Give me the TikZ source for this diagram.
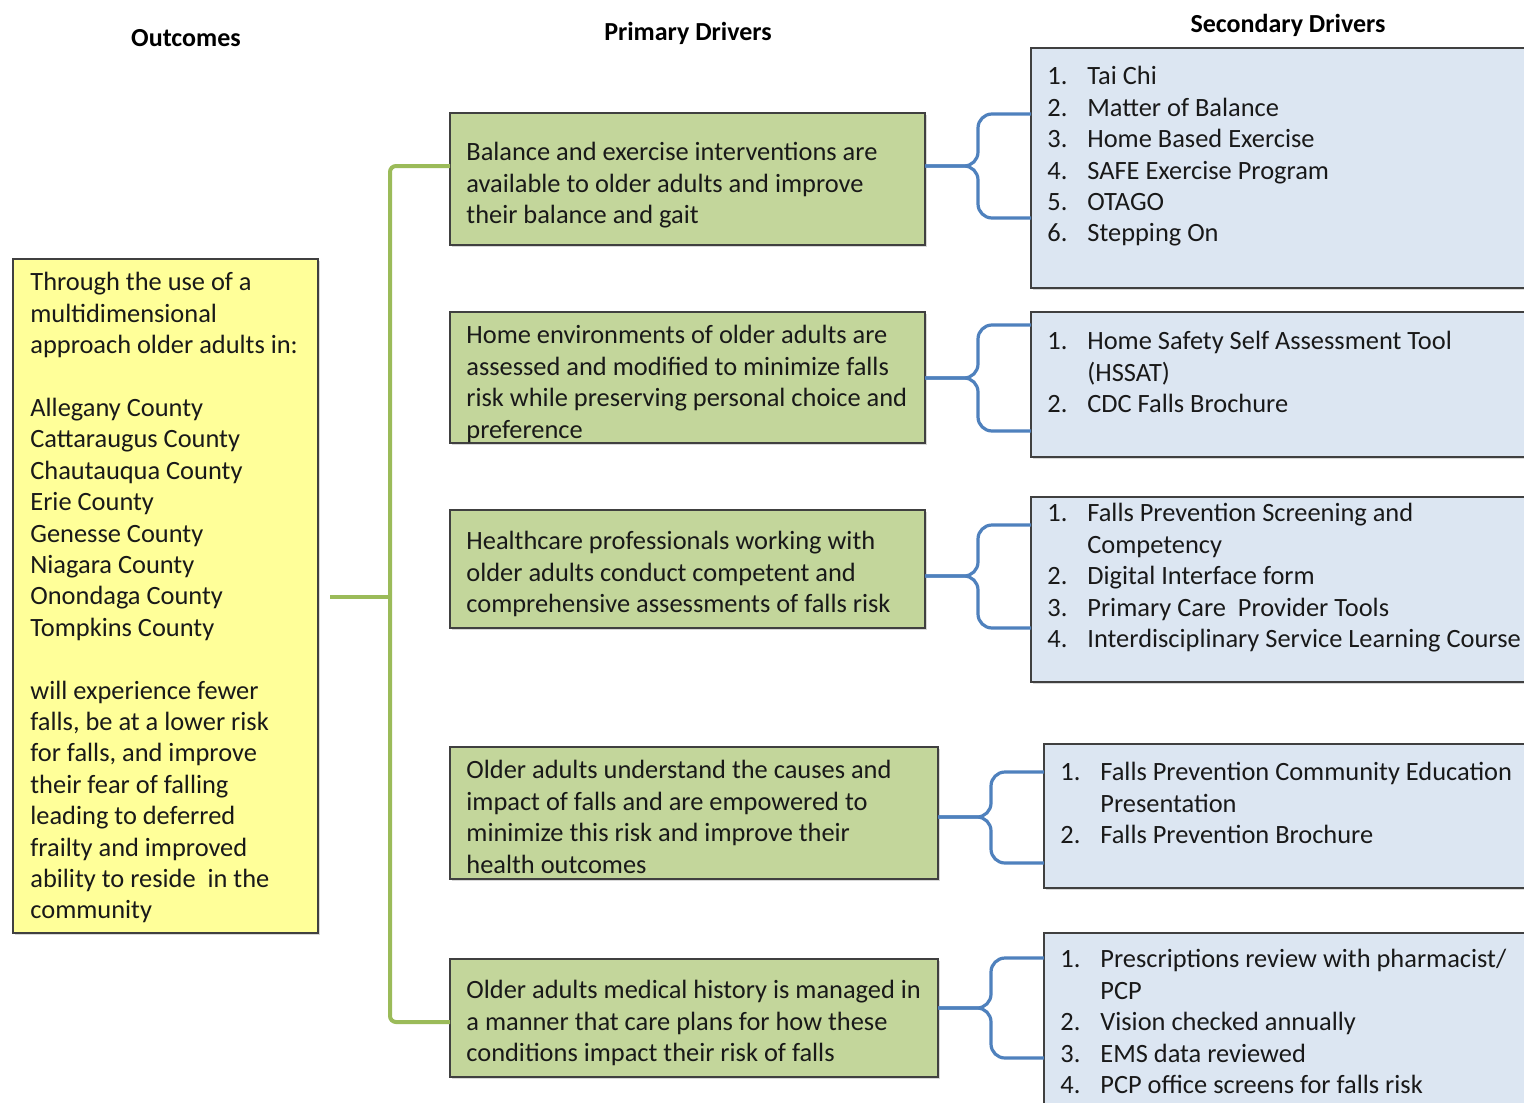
\documentclass[tikz,border=0pt]{standalone}
\usepackage{fontspec}
\setmainfont{Carlito}
\usetikzlibrary{shadows}
\definecolor{gfill}{HTML}{C3D69B}
\definecolor{gline}{HTML}{9BBB59}
\definecolor{bfill}{HTML}{DCE6F2}
\definecolor{bline}{HTML}{4F81BD}
\definecolor{yfill}{HTML}{FFFF99}
\definecolor{edge}{HTML}{404040}
\newcommand{\itm}[2]{\makebox[20pt][l]{#1}#2}
\newcommand{\cnt}[1]{\hspace*{20pt}#1}
\tikzset{
  box/.style={draw=edge, line width=1pt, inner sep=0pt, outer sep=0pt,
     drop shadow={shadow xshift=0.8pt, shadow yshift=-0.8pt, opacity=0.3}},
  ybox/.style={box, fill=yfill},
  gbox/.style={box, fill=gfill},
  bbox/.style={box, fill=bfill},
  txt/.style={font=\fontsize{13.2}{15.7}\selectfont, align=left, inner sep=0pt, anchor=north west, text=black!90},
  head/.style={font=\fontsize{13}{15.7}\selectfont\bfseries, inner sep=0pt, anchor=base},
  gcon/.style={draw=gline, line width=2pt, rounded corners=3pt},
  bcon/.style={draw=bline, line width=1.6pt, rounded corners=7pt},
}
\begin{document}
\begin{tikzpicture}[x=0.5pt, y=-0.5pt]
\useasboundingbox (0,0) rectangle (1524,1102);
\clip (0,0) rectangle (1524,1102);
\fill[white] (0,0) rectangle (1524,1102);

% headers
\node[head] (h1) at (186,47) {Outcomes};
\node[head] (h2) at (688,41) {Primary Drivers};
\node[head] (h3) at (1288,33) {Secondary Drivers};

% boxes
\node[ybox, minimum width=152.5pt, minimum height=337pt] (out) at (165.5,596) {};
\node[gbox, minimum width=237.5pt, minimum height=66pt] (g1) at (687.5,179) {};
\node[gbox, minimum width=237.5pt, minimum height=65.5pt] (g2) at (687.5,377.5) {};
\node[gbox, minimum width=237.5pt, minimum height=59pt] (g3) at (687.5,569) {};
\node[gbox, minimum width=244pt, minimum height=66pt] (g4) at (694,813) {};
\node[gbox, minimum width=244pt, minimum height=59pt] (g5) at (694,1018) {};
\node[bbox, minimum width=254.5pt, minimum height=120pt] (s1) at (1285.5,168) {};
\node[bbox, minimum width=254.5pt, minimum height=72.5pt] (s2) at (1285.5,384.5) {};
\node[bbox, minimum width=254.5pt, minimum height=92.5pt] (s3) at (1285.5,589.5) {};
\node[bbox, minimum width=248pt, minimum height=72pt] (s4) at (1292,816) {};
\node[bbox, minimum width=248pt, minimum height=93.5pt] (s5) at (1292,1026.5) {};

% texts
\node[txt] (tout) at (30,268.6) {\strut Through the use of a\\multidimensional\\approach older adults in:\\[15.7pt]
Allegany County\\Cattaraugus County\\Chautauqua County\\Erie County\\Genesse County\\Niagara County\\Onondaga County\\Tompkins County\\[15.7pt]
will experience fewer\\falls, be at a lower risk\\for falls, and improve\\their fear of falling\\leading to deferred\\frailty and improved\\ability to reside\ \ in the\\community};

\node[txt] (tg1) at (466,138.6) {\strut Balance and exercise interventions are\\available to older adults and improve\\their balance and gait};
\node[txt] (tg2) at (466,321.6) {\strut Home environments of older adults are\\assessed and modified to minimize falls\\risk while preserving personal choice and\\preference};
\node[txt] (tg3) at (466,527.6) {\strut Healthcare professionals working with\\older adults conduct competent and\\comprehensive assessments of falls risk};
\node[txt] (tg4) at (466,756.6) {\strut Older adults understand the causes and\\impact of falls and are empowered to\\minimize this risk and improve their\\health outcomes};
\node[txt] (tg5) at (466,976.6) {\strut Older adults medical history is managed in\\a manner that care plans for how these\\conditions impact their risk of falls};

\node[txt] (ts1) at (1047,62.6) {\strut\itm{1.}{Tai Chi}\\\itm{2.}{Matter of Balance}\\\itm{3.}{Home Based Exercise}\\\itm{4.}{SAFE Exercise Program}\\\itm{5.}{OTAGO}\\\itm{6.}{Stepping On}};
\node[txt] (ts2) at (1047,327.6) {\strut\itm{1.}{Home Safety Self Assessment Tool}\\\cnt{(HSSAT)}\\\itm{2.}{CDC Falls Brochure}};
\node[txt] (ts3) at (1047,499.6) {\strut\itm{1.}{Falls Prevention Screening and}\\\cnt{Competency}\\\itm{2.}{Digital Interface form}\\\itm{3.}{Primary Care\ \ Provider Tools}\\\itm{4.}{Interdisciplinary Service Learning Course}};
\node[txt] (ts4) at (1060,758.6) {\strut\itm{1.}{Falls Prevention Community Education}\\\cnt{Presentation}\\\itm{2.}{Falls Prevention Brochure}};
\node[txt] (ts5) at (1060,945.6) {\strut\itm{1.}{Prescriptions review with pharmacist/}\\\cnt{PCP}\\\itm{2.}{Vision checked annually}\\\itm{3.}{EMS data reviewed}\\\itm{4.}{PCP office screens for falls risk}};

% green connector
\coordinate (ta) at (390,166);
\coordinate (tb) at (390,1022);
\coordinate (stub) at (330,597);
\draw[gcon] (g1.west |- ta) -- (ta) -- (tb) -- (g5.west |- tb);
\draw[gcon] (stub) -- (stub -| ta);

% blue braces
\foreach \i/\bx/\ym/\yt/\yb in {1/978/166/114/218, 2/978/378/325/431, 3/978/576/525/628, 4/991/817/772/863, 5/991/1008/958/1058}{
  \coordinate (m\i) at (\bx,\ym);
  \coordinate (t\i) at (\bx,\yt);
  \coordinate (b\i) at (\bx,\yb);
  \draw[bcon] (g\i.east |- m\i) -- (m\i) -- (t\i) -- (s\i.west |- t\i);
  \draw[bcon] (g\i.east |- m\i) -- (m\i) -- (b\i) -- (s\i.west |- b\i);
}
\end{tikzpicture}
\end{document}
